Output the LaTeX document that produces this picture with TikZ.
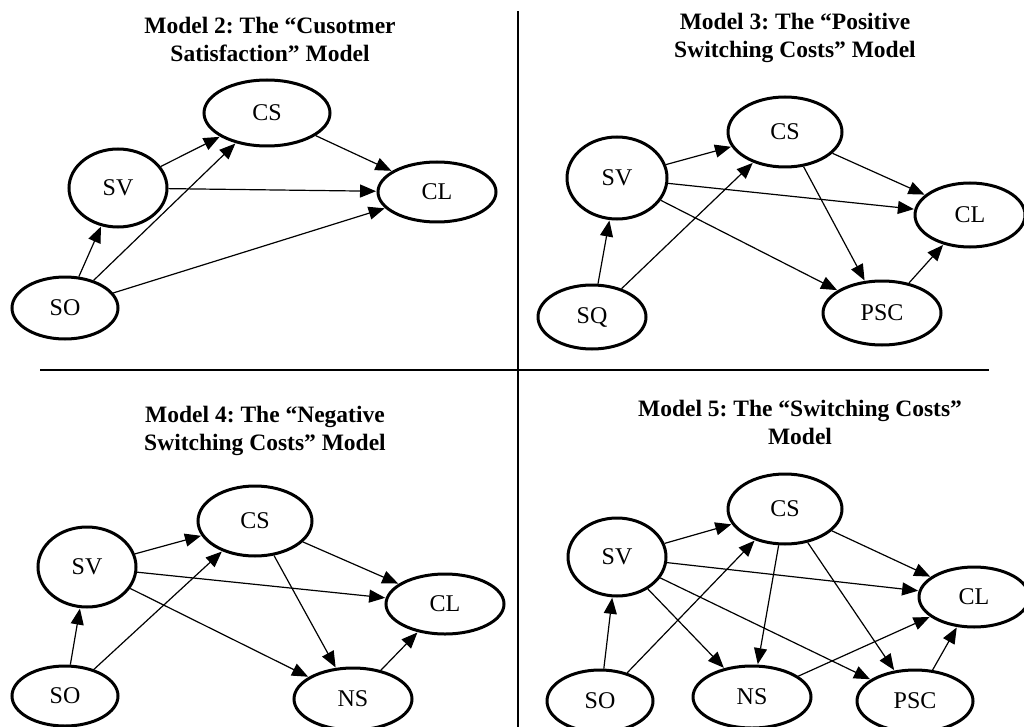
\documentclass[tikz,border=0pt]{standalone}
\usepackage{fontspec}
\setmainfont{Liberation Serif}
\usetikzlibrary{shapes.geometric,arrows.meta}

\tikzset{
  var/.style={ellipse, draw, line width=3pt, inner sep=0pt, font=\fontsize{24}{28}\selectfont},
  link/.style={line width=1.2pt, -{Triangle[length=16pt,width=13pt]}, shorten >=0.5pt},
  heading/.style={align=center, font=\bfseries\fontsize{23.5}{28}\selectfont},
  rule/.style={line width=1.3pt}
}

\begin{document}
\frenchspacing
\begin{tikzpicture}[x=1pt,y=-1pt]
	\useasboundingbox (0,0) rectangle (1024,727);

	% linie podzialu
	\draw[rule] (518,11) -- (518,727);
	\draw[rule] (40,370) -- (989,370);

	% Model 2
	\node[heading] (t2) at (270,39) {Model 2: The “Cusotmer\\Satisfaction” Model};
	\node[var, minimum width=126pt, minimum height=66pt] (m2CS) at (267,113) {CS};
	\node[var, minimum width=98pt, minimum height=78pt] (m2SV) at (118,188) {SV};
	\node[var, minimum width=118pt, minimum height=60pt] (m2CL) at (437,192) {CL};
	\node[var, minimum width=106pt, minimum height=62pt] (m2SO) at (65,308) {SO};
	\foreach \a/\b in {m2SO/m2SV, m2SO/m2CS, m2SO/m2CL, m2SV/m2CS, m2SV/m2CL, m2CS/m2CL} {
	     \draw[link] (\a) -- (\b);
	}

	% Model 3
	\node[heading] (t3) at (795,38) {Model 3: The “Positive\\Switching Costs” Model};
	\node[var, minimum width=114pt, minimum height=70pt] (m3CS) at (785,132) {CS};
	\node[var, minimum width=100pt, minimum height=82pt] (m3SV) at (617,178) {SV};
	\node[var, minimum width=110pt, minimum height=64pt] (m3CL) at (970,215) {CL};
	\node[var, minimum width=108pt, minimum height=64pt] (m3SQ) at (592,317) {SQ};
	\node[var, minimum width=118pt, minimum height=64pt] (m3PSC) at (882,313) {PSC};
	\foreach \a/\b in {m3SQ/m3SV, m3SQ/m3CS, m3SV/m3CS, m3SV/m3CL, m3SV/m3PSC, m3CS/m3CL, m3CS/m3PSC, m3PSC/m3CL} {
	     \draw[link] (\a) -- (\b);
	}

	% Model 4
	\node[heading] (t4) at (265,431) {Model 4: The “Negative\\Switching Costs” Model};
	\node[var, minimum width=114pt, minimum height=70pt] (m4CS) at (255,521) {CS};
	\node[var, minimum width=98pt, minimum height=80pt] (m4SV) at (87,567) {SV};
	\node[var, minimum width=118pt, minimum height=60pt] (m4CL) at (445,604) {CL};
	\node[var, minimum width=106pt, minimum height=60pt] (m4SO) at (65,696) {SO};
	\node[var, minimum width=118pt, minimum height=62pt] (m4NS) at (353,699) {NS};
	\foreach \a/\b in {m4SO/m4SV, m4SO/m4CS, m4SV/m4CS, m4SV/m4CL, m4SV/m4NS, m4CS/m4CL, m4CS/m4NS, m4NS/m4CL} {
	     \draw[link] (\a) -- (\b);
	}

	% Model 5
	\node[heading] (t5) at (800,422) {Model 5: The “Switching Costs”\\Model};
	\node[var, minimum width=114pt, minimum height=70pt] (m5CS) at (785,509) {CS};
	\node[var, minimum width=98pt, minimum height=78pt] (m5SV) at (617,557) {SV};
	\node[var, minimum width=110pt, minimum height=60pt] (m5CL) at (974,597) {CL};
	\node[var, minimum width=106pt, minimum height=62pt] (m5SO) at (600,701) {SO};
	\node[var, minimum width=118pt, minimum height=62pt] (m5NS) at (752,697) {NS};
	\node[var, minimum width=116pt, minimum height=62pt] (m5PSC) at (915,701) {PSC};
	\foreach \a/\b in {m5SO/m5SV, m5SO/m5CS, m5SV/m5CS, m5SV/m5CL, m5SV/m5NS, m5SV/m5PSC, m5CS/m5CL, m5CS/m5NS, m5CS/m5PSC, m5NS/m5CL, m5PSC/m5CL} {
	     \draw[link] (\a) -- (\b);
	}
\end{tikzpicture}
\end{document}
